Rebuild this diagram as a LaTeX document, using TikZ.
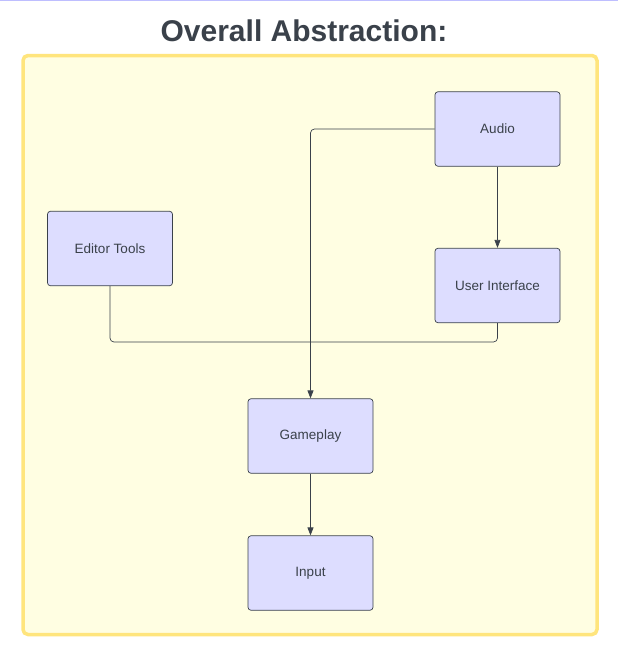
\documentclass[tikz,border=0pt]{standalone}
\usepackage{fontspec}
\setmainfont{Liberation Sans}
\usetikzlibrary{arrows.meta}
\definecolor{boxblue}{RGB}{221, 221, 255}
\definecolor{linegray}{RGB}{58, 65, 74}
\definecolor{paleyellow}{RGB}{255, 254, 226}
\definecolor{bordyellow}{RGB}{255, 229, 125}
\definecolor{topline}{RGB}{190, 190, 255}

\begin{document}
\begin{tikzpicture}[x = 1pt, y = -1pt,
	box/.style = {draw = linegray, fill = boxblue, line width = 0.7pt, rounded corners = 3pt,
		minimum width = 125pt, minimum height = 74.5pt, text = linegray,
		font = \fontsize{13.5}{16}\selectfont},
	link/.style = {draw = linegray, line width = 0.7pt, rounded corners = 4pt},
	arr/.style = {link, -{Triangle[width = 6pt, length = 8pt]}}]
			\useasboundingbox (0,0) rectangle (618,646);
			\fill[white] (0,0) rectangle (618,646);
			\draw[topline, line width = 1pt] (0,0.5) -- (618,0.5);
			\draw[fill = paleyellow, draw = bordyellow, line width = 3.5pt, rounded corners = 5pt] (23,55.5) rectangle (597,634.5);
			\node (t) at (304,41) [anchor = base, text = linegray, font = \bfseries\fontsize{30}{36}\selectfont] {Overall Abstraction:};
			\node (aud) at (497.5,129) [box] {Audio};
			\node (ui) at (497.5,285.5) [box] {User Interface};
			\node (ed) at (110,248.5) [box] {Editor Tools};
			\node (game) at (310.5,436) [box] {Gameplay};
			\node (inp) at (310.5,573) [box] {Input};
			\coordinate (m) at (310.5,342);
			\draw[arr] (aud.west) -| (game.north);
			\draw[arr] (aud) -- (ui);
			\draw[link] (ed.south) |- (m);
			\draw[link] (ui.south) |- (m);
			\draw[arr] (game) -- (inp);
			\end{tikzpicture}
\end{document}
